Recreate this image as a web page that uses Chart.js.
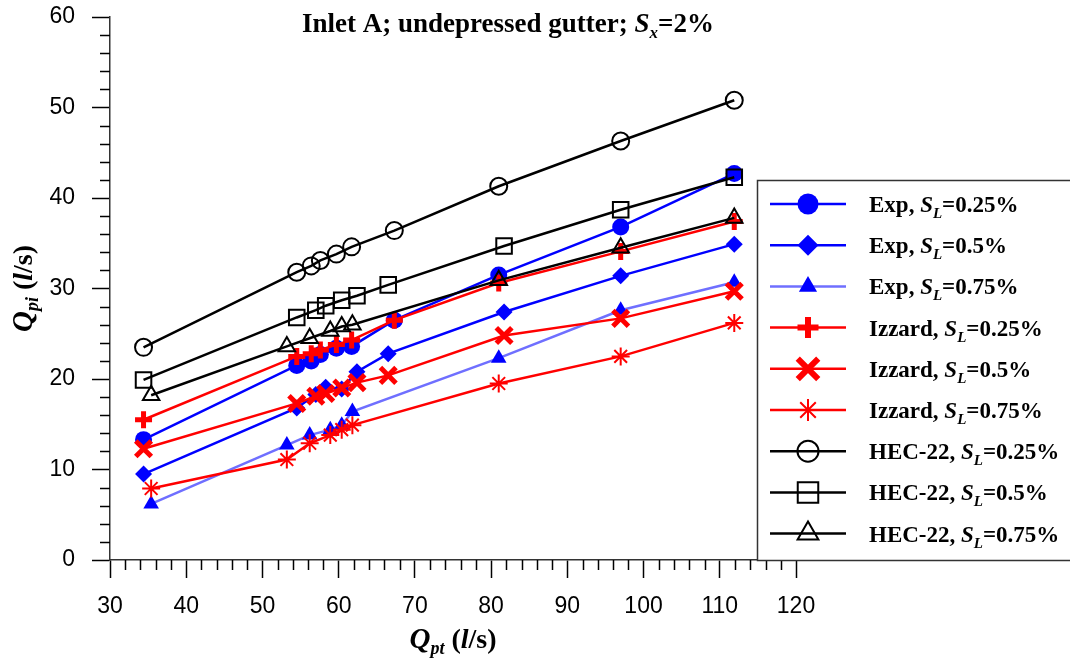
<!DOCTYPE html>
<html>
<head>
<meta charset="utf-8">
<script src="https://cdn.jsdelivr.net/npm/chart.js@4.4.0/dist/chart.umd.min.js"></script>
<style>
  html, body { margin: 0; padding: 0; background: #fff; }
  #wrap { width: 1070px; height: 663px; position: relative; }
</style>
</head>
<body>
<div id="wrap"><canvas id="c" width="1070" height="663"></canvas></div>
<script>
// Total gutter flow Q_pt (l/s) for each group of runs
const qptA = [34.4, 54.5, 56.4, 57.6, 59.7, 61.7, 67.3, 81.0, 97.0, 111.9];   // S_L = 0.25%
const qptB = [34.4, 54.5, 57.0, 58.3, 60.4, 62.4, 66.5, 81.7, 97.0, 111.9];   // S_L = 0.5%
const qptC = [35.4, 53.2, 56.2, 58.9, 60.4, 61.8, 81.0, 97.0, 111.9];         // S_L = 0.75%

// Intercepted flow Q_pi (l/s)
const expSL025 = [13.3, 21.5, 22.0, 22.7, 23.4, 23.6, 26.5, 31.5, 36.8, 42.7];
const expSL05  = [9.5, 16.8, 18.3, 19.1, 18.9, 20.8, 22.8, 27.4, 31.4, 34.9];
const expSL075 = [6.2, 12.7, 13.8, 14.4, 14.9, 16.4, 22.3, 27.6, 30.7];
const izzSL025 = [15.5, 22.5, 22.8, 23.2, 23.8, 24.3, 26.5, 30.6, 34.1, 37.4];
const izzSL05  = [12.3, 17.3, 18.1, 18.4, 19.0, 19.6, 20.4, 24.8, 26.7, 29.7];
const izzSL075 = [7.9, 11.1, 12.9, 13.8, 14.4, 14.9, 19.5, 22.5, 26.2];
const hecSL025 = [23.5, 31.8, 32.5, 33.1, 33.8, 34.6, 36.4, 41.3, 46.3, 50.8];
const hecSL05  = [19.9, 26.8, 27.6, 28.1, 28.7, 29.2, 30.4, 34.7, 38.7, 42.3];
const hecSL075 = [18.2, 23.6, 24.5, 25.3, 25.8, 26.0, 30.9, 34.5, 37.8];

const seriesNames = ['Exp', 'Exp', 'Exp', 'Izzard', 'Izzard', 'Izzard', 'HEC-22', 'HEC-22', 'HEC-22'];
const slopeLabels = ['0.25%', '0.5%', '0.75%', '0.25%', '0.5%', '0.75%', '0.25%', '0.5%', '0.75%'];

const xTicks = { min: 30, max: 120, step: 10, minor: 2 };
const yTicks = { min: 0, max: 60, step: 10, minor: 2 };

const SERIF = '"Liberation Serif", "Times New Roman", serif';
const SANS = '"Liberation Sans", Arial, sans-serif';

function pts(xs, ys) { return xs.map((x, i) => ({ x: x, y: ys[i] })); }

// style per series: line colour, marker, and legend marker size
const styles = [
  { line: '#0000ff', fill: '#0000ff', stroke: '#0000ff', ps: 'circle',   r: 8.5, bw: 0,   lr: 10.5, order: 3 },
  { line: '#0000ff', fill: '#0000ff', stroke: '#0000ff', ps: 'rectRot',  r: 8.5, bw: 0,   lr: 10.5, order: 3 },
  { line: '#6f6fff', fill: '#0000ff', stroke: '#0000ff', ps: 'triangle', r: 9,   bw: 0,   lr: 10.5, order: 3 },
  { line: '#ff0000', fill: '#ff0000', stroke: '#ff0000', ps: 'cross',    r: 8.5, bw: 5,   lr: 10.5, lbw: 6, order: 2 },
  { line: '#ff0000', fill: '#ff0000', stroke: '#ff0000', ps: 'crossRot', r: 11,  bw: 5,   lr: 14.5, lbw: 6, order: 2 },
  { line: '#ff0000', fill: '#ff0000', stroke: '#ff0000', ps: 'star',     r: 9,   bw: 2,   lr: 11,   lbw: 2, order: 2 },
  { line: '#000000', fill: 'rgba(0,0,0,0)', stroke: '#000000', ps: 'circle',   r: 8.5, bw: 2, lr: 10.5, lbw: 2, order: 1 },
  { line: '#000000', fill: 'rgba(0,0,0,0)', stroke: '#000000', ps: 'rect',     r: 11,  bw: 2, lr: 14.5, lbw: 2, order: 1 },
  { line: '#000000', fill: 'rgba(0,0,0,0)', stroke: '#000000', ps: 'triangle', r: 9.5, bw: 2, lr: 12,   lbw: 2, order: 1 }
];

const seriesData = [
  pts(qptA, expSL025), pts(qptB, expSL05), pts(qptC, expSL075),
  pts(qptA, izzSL025), pts(qptB, izzSL05), pts(qptC, izzSL075),
  pts(qptA, hecSL025), pts(qptB, hecSL05), pts(qptC, hecSL075)
];

const datasets = seriesData.map((d, i) => {
  const s = styles[i];
  return {
    label: seriesNames[i] + ', S_L=' + slopeLabels[i],
    data: d,
    borderColor: s.line,
    borderWidth: 2.5,
    backgroundColor: s.fill,
    pointStyle: s.ps,
    pointRadius: s.r,
    pointHoverRadius: s.r,
    pointBackgroundColor: s.fill,
    pointBorderColor: s.stroke,
    pointBorderWidth: s.bw,
    tension: 0,
    fill: false,
    order: s.order,
    clip: false
  };
});

// draw a run of text pieces with different fonts
function richWidth(ctx, parts) {
  let w = 0;
  parts.forEach(p => { ctx.font = p.f; w += ctx.measureText(p.t).width; });
  return w;
}
function drawRich(ctx, parts, x, y, align) {
  const w = richWidth(ctx, parts);
  let cx = align === 'center' ? x - w / 2 : x;
  ctx.textBaseline = 'alphabetic';
  ctx.textAlign = 'left';
  parts.forEach(p => {
    ctx.font = p.f;
    ctx.fillText(p.t, cx, y + (p.dy || 0));
    cx += ctx.measureText(p.t).width;
  });
}

const decorations = {
  id: 'decorations',
  afterDraw(chart) {
    const ctx = chart.ctx;
    const xs = chart.scales.x, ys = chart.scales.y;
    ctx.save();
    // minor ticks
    ctx.strokeStyle = '#000';
    ctx.lineWidth = 1.5;
    ctx.beginPath();
    for (let v = xTicks.min; v <= xTicks.max; v += xTicks.minor) {
      if (v % xTicks.step === 0) continue;
      const px = Math.round(xs.getPixelForValue(v)) + 0.5;
      ctx.moveTo(px, ys.bottom);
      ctx.lineTo(px, ys.bottom + 10);
    }
    for (let v = yTicks.min; v <= yTicks.max; v += yTicks.minor) {
      if (v % yTicks.step === 0) continue;
      const py = Math.round(ys.getPixelForValue(v)) + 0.5;
      ctx.moveTo(xs.left, py);
      ctx.lineTo(xs.left - 10, py);
    }
    ctx.stroke();

    ctx.fillStyle = '#000';
    // title
    drawRich(ctx, [
      { t: 'Inlet A; undepressed gutter; ', f: 'bold 27px ' + SERIF },
      { t: 'S', f: 'italic bold 27px ' + SERIF },
      { t: 'x', f: 'italic bold 17px ' + SERIF, dy: 6 },
      { t: '=2%', f: 'bold 27px ' + SERIF }
    ], 508, 32, 'center');

    // axis titles
    const axisParts = (sub) => [
      { t: 'Q', f: 'italic bold 29px ' + SERIF },
      { t: sub, f: 'italic bold 18px ' + SERIF, dy: 6 },
      { t: ' (', f: 'bold 28px ' + SERIF },
      { t: 'l', f: 'italic bold 28px ' + SERIF },
      { t: '/s)', f: 'bold 28px ' + SERIF }
    ];
    drawRich(ctx, axisParts('pt'), (xs.left + xs.right) / 2, 648, 'center');

    ctx.save();
    ctx.translate(32, (ys.top + ys.bottom) / 2);
    ctx.rotate(-Math.PI / 2);
    drawRich(ctx, axisParts('pi'), 0, 0, 'center');
    ctx.restore();

    // legend
    const boxL = 757, boxT = 180, boxB = ys.bottom;
    ctx.fillStyle = '#fff';
    ctx.fillRect(boxL, boxT, 1070 - boxL + 5, boxB - boxT);
    ctx.strokeStyle = '#333';
    ctx.lineWidth = 1.5;
    ctx.strokeRect(boxL + 0.5, boxT + 0.5, 1070 - boxL + 10, boxB - boxT);
    const rowH = 41.2, row0 = 204;
    styles.forEach((s, i) => {
      const ry = row0 + i * rowH;
      ctx.strokeStyle = s.line;
      ctx.lineWidth = 2.5;
      ctx.beginPath();
      ctx.moveTo(770, ry);
      ctx.lineTo(846, ry);
      ctx.stroke();
      ctx.fillStyle = s.fill;
      ctx.strokeStyle = s.stroke;
      ctx.lineWidth = s.lbw || 0;
      Chart.helpers.drawPoint(ctx, {
        pointStyle: s.ps, radius: s.lr, rotation: 0, borderWidth: s.lbw || 0
      }, 808, ry);
      ctx.fillStyle = '#000';
      drawRich(ctx, [
        { t: seriesNames[i] + ', ', f: 'bold 23px ' + SERIF },
        { t: 'S', f: 'italic bold 23px ' + SERIF },
        { t: 'L', f: 'italic bold 15px ' + SERIF, dy: 6 },
        { t: '=' + slopeLabels[i], f: 'bold 23px ' + SERIF }
      ], 869, ry + 8, 'left');
    });
    ctx.restore();
  }
};

new Chart(document.getElementById('c'), {
  type: 'line',
  data: { datasets: datasets },
  options: {
    responsive: false,
    animation: false,
    devicePixelRatio: 1,
    layout: { padding: { left: 0, top: 17, right: 274, bottom: 0 } },
    plugins: { legend: { display: false }, title: { display: false }, tooltip: { enabled: false } },
    events: [],
    scales: {
      x: {
        type: 'linear',
        min: xTicks.min, max: xTicks.max,
        afterFit(scale) { scale.height = 103; scale.paddingLeft = 0; scale.paddingRight = 0; },
        ticks: { stepSize: xTicks.step, color: '#000', padding: 15, font: { family: SANS, size: 23 } },
        grid: { drawOnChartArea: false, drawTicks: true, tickLength: 18, tickColor: '#000', tickWidth: 1.5 },
        border: { display: true, color: '#333', width: 1.5 }
      },
      y: {
        type: 'linear',
        min: yTicks.min, max: yTicks.max,
        afterFit(scale) { scale.width = 110; scale.paddingTop = 0; scale.paddingBottom = 0; },
        ticks: { stepSize: yTicks.step, color: '#000', padding: 17, font: { family: SANS, size: 23 } },
        grid: { drawOnChartArea: false, drawTicks: true, tickLength: 18, tickColor: '#000', tickWidth: 1.5 },
        border: { display: true, color: '#333', width: 1.5 }
      }
    }
  },
  plugins: [decorations]
});
</script>
</body>
</html>
